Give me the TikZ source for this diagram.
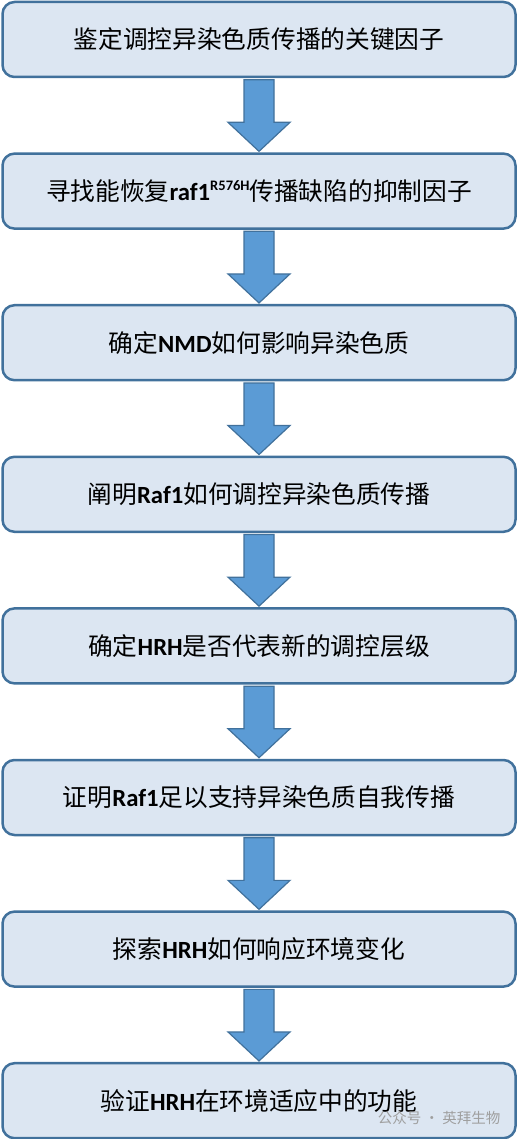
\documentclass[tikz,border=0pt]{standalone}
\usepackage{fontspec}
\setmainfont{Noto Sans CJK SC}
\newfontfamily\enfont{Carlito}
\usepackage{xcolor}
\usetikzlibrary{calc}
\definecolor{boxline}{RGB}{65,113,156}
\definecolor{boxfill}{RGB}{220,230,242}
\definecolor{arrowfill}{RGB}{91,155,213}
\newcommand{\en}[1]{{\enfont\bfseries #1}}
\newcommand{\supen}[1]{\raisebox{0.42em}{\fontsize{14.5}{15}\selectfont\en{#1}}}

\begin{document}
\begin{tikzpicture}[
    stepbox/.style={rectangle, rounded corners=12pt, draw=boxline, line width=2.5pt, fill=boxfill, minimum width=513pt, minimum height=75pt, inner sep=0pt, font=\fontsize{24.7}{28}\selectfont},
    flow/.style={draw=boxline, line width=1.2pt, fill=arrowfill, line join=miter}
]
\useasboundingbox (0,0) rectangle (518pt,-1139pt);
\node[stepbox] (s1) at (259pt,-39.5pt) {鉴定调控异染色质传播的关键因子};
\node[stepbox] (s2) at (259pt,-191.1pt) {寻找能恢复\en{raf1}\supen{R576H}传播缺陷的抑制因子};
\node[stepbox] (s3) at (259pt,-342.7pt) {确定\en{NMD}如何影响异染色质};
\node[stepbox] (s4) at (259pt,-494.3pt) {阐明\en{Raf1}如何调控异染色质传播};
\node[stepbox] (s5) at (259pt,-645.9pt) {确定\en{HRH}是否代表新的调控层级};
\node[stepbox] (s6) at (259pt,-797.5pt) {证明\en{Raf1}足以支持异染色质自我传播};
\node[stepbox] (s7) at (259pt,-949.1pt) {探索\en{HRH}如何响应环境变化};
\node[stepbox] (s8) at (259pt,-1100.7pt) {验证\en{HRH}在环境适应中的功能};
% block arrows between the steps
\foreach \i/\j in {1/2,2/3,3/4,4/5,5/6,6/7,7/8}
  \draw[flow] ($(s\i.south)+(-15pt,-1.5pt)$) -- ($(s\j.north)+(-15pt,30pt)$)
    -- ($(s\j.north)+(-31pt,30pt)$) -- ($(s\j.north)+(0,1pt)$)
    -- ($(s\j.north)+(31pt,30pt)$) -- ($(s\j.north)+(15pt,30pt)$)
    -- ($(s\i.south)+(15pt,-1.5pt)$) -- cycle;
\node[text=gray!75, font=\fontsize{14.5}{16}\selectfont] (wm) at (439pt,-1118pt) {公众号 · 英拜生物};
\end{tikzpicture}
\end{document}
